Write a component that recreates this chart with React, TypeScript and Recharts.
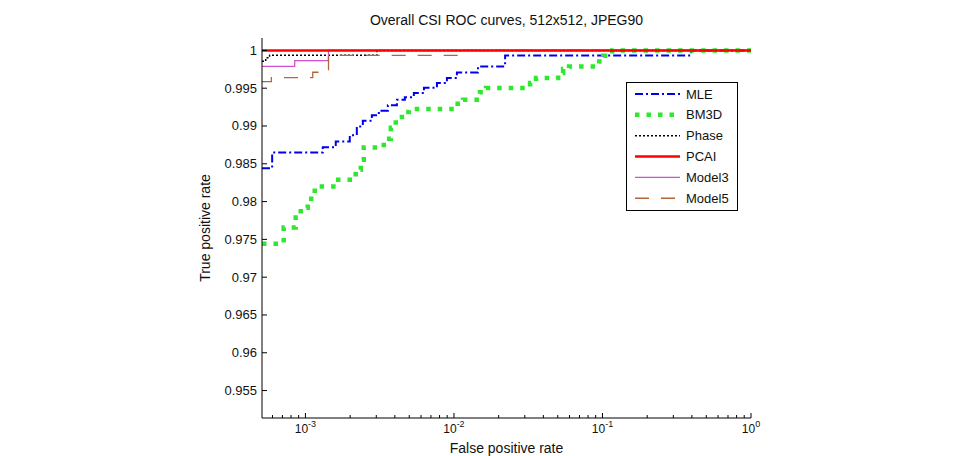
import React from 'react';
import { LineChart, Line, XAxis, YAxis, Customized } from 'recharts';

// ROC curves, x = false positive rate (log), y = true positive rate
const mleFpr = [0.00051, 0.000597, 0.001308, 0.0016, 0.001989, 0.002218, 0.002434, 0.0028, 0.00312, 0.00359, 0.00413, 0.00467, 0.00537, 0.00628, 0.00768, 0.00897, 0.01047, 0.01451, 0.0221, 0.394, 1];
const mleTpr = [0.98441, 0.9865, 0.98719, 0.98795, 0.98877, 0.98994, 0.99069, 0.99142, 0.99202, 0.99275, 0.99347, 0.9938, 0.99436, 0.99506, 0.99568, 0.99635, 0.99709, 0.99788, 0.99934, 1, 1];

const bm3dFpr = [0.00051, 0.000714, 0.00086, 0.00093, 0.001036, 0.001155, 0.0016, 0.00218, 0.00236, 0.00247, 0.00337, 0.00376, 0.00406, 0.00446, 0.00497, 0.01016, 0.0115, 0.01497, 0.01643, 0.03255, 0.0357, 0.0503, 0.0543, 0.0596, 0.095, 0.1011, 0.1162, 1];
const bm3dTpr = [0.97441, 0.97657, 0.97789, 0.97918, 0.98037, 0.982, 0.98288, 0.98421, 0.98553, 0.98716, 0.98831, 0.98977, 0.99118, 0.99185, 0.99224, 0.99294, 0.99347, 0.99447, 0.99502, 0.99568, 0.99635, 0.99701, 0.99754, 0.99788, 0.99854, 0.9993, 1, 1];

const phaseFpr = [0.00051, 0.00054, 0.000574, 0.00303, 1];
const phaseTpr = [0.99857, 0.99903, 0.99936, 1, 1];

const pcaiFpr = [0.00051, 1];
const pcaiTpr = [1, 1];

const model3Fpr = [0.00051, 0.000847, 0.001429, 1];
const model3Tpr = [0.99788, 0.99864, 1, 1];

const model5Fpr = [0.00051, 0.00059, 0.00112, 0.00143, 0.01186, 1];
const model5Tpr = [0.99586, 0.99639, 0.99711, 0.99934, 1, 1];

const xTicks = [0.0006, 0.0007, 0.0008, 0.0009, 0.001, 0.002, 0.003, 0.004, 0.005, 0.006, 0.007, 0.008, 0.009, 0.01, 0.02, 0.03, 0.04, 0.05, 0.06, 0.07, 0.08, 0.09, 0.1, 0.2, 0.3, 0.4, 0.5, 0.6, 0.7, 0.8, 0.9, 1];
const xMajor = [0.001, 0.01, 0.1, 1];
const yTicks = [0.955, 0.96, 0.965, 0.97, 0.975, 0.98, 0.985, 0.99, 0.995, 1];

const toPoints = (xs: number[], ys: number[]) => xs.map((x, i) => ({ x, y: ys[i] }));

// legend order
const series = [
  { name: 'MLE', data: toPoints(mleFpr, mleTpr), color: '#0000ee', width: 2, dash: '8 3 2 3' },
  { name: 'BM3D', data: toPoints(bm3dFpr, bm3dTpr), color: '#2ee82e', width: 4.5, dash: '4.5 7' },
  { name: 'Phase', data: toPoints(phaseFpr, phaseTpr), color: '#000000', width: 1.5, dash: '2 2' },
  { name: 'PCAI', data: toPoints(pcaiFpr, pcaiTpr), color: '#ff0000', width: 2.5, dash: undefined },
  { name: 'Model3', data: toPoints(model3Fpr, model3Tpr), color: '#d050d0', width: 1.3, dash: undefined },
  { name: 'Model5', data: toPoints(model5Fpr, model5Tpr), color: '#b5653a', width: 1.3, dash: '14 12' },
];
// red PCAI line drawn last so it stays visible along y = 1
const drawOrder = ['MLE', 'BM3D', 'Phase', 'Model3', 'Model5', 'PCAI'];

const FONT = '"Liberation Sans", Arial, Helvetica, sans-serif';

const isMajor = (v: number) => xMajor.some((m) => Math.abs(m - v) < 1e-12);

const BottomTick = (props: any) => {
  const { x, y, payload } = props;
  const major = isMajor(payload.value);
  const exp = Math.round(Math.log10(payload.value));
  return (
    <g>
      <line x1={x} x2={x} y1={y} y2={y - (major ? 5 : 3)} stroke="#000" strokeWidth={1} />
      {major && (
        <text x={x} y={y + 15} textAnchor="middle" fontSize={12} fontFamily={FONT} fill="#111">
          10<tspan dy={-6} fontSize={9}>{exp}</tspan>
        </text>
      )}
    </g>
  );
};

const TopTick = (props: any) => {
  const { x, y, payload } = props;
  const major = isMajor(payload.value);
  return <line x1={x} x2={x} y1={y} y2={y + (major ? 5 : 3)} stroke="#000" strokeWidth={1} />;
};

const LeftTick = (props: any) => {
  const { x, y, payload } = props;
  return (
    <g>
      <line x1={x} x2={x + 5} y1={y} y2={y} stroke="#000" strokeWidth={1} />
      <text x={x - 5} y={y} dy={4.5} textAnchor="end" fontSize={13} fontFamily={FONT} fill="#111">
        {String(payload.value)}
      </text>
    </g>
  );
};

const RightTick = (props: any) => {
  const { x, y } = props;
  return <line x1={x} x2={x - 5} y1={y} y2={y} stroke="#000" strokeWidth={1} />;
};

const Decorations = () => (
  <g fontFamily={FONT} fill="#111">
    <text x={506.5} y={25} textAnchor="middle" fontSize={14}>Overall CSI ROC curves, 512x512, JPEG90</text>
    <text x={210} y={228} textAnchor="middle" fontSize={14} transform="rotate(-90 210 228)">True positive rate</text>
    <text x={506.5} y={453} textAnchor="middle" fontSize={14}>False positive rate</text>
    <g transform="translate(626,82)">
      <rect x={0.5} y={0.5} width={111} height={128} fill="#fff" stroke="#000" strokeWidth={1} />
      {series.map((s, i) => {
        const cy = 12 + i * 20.85;
        return (
          <g key={s.name}>
            <line x1={9} x2={54} y1={cy} y2={cy} stroke={s.color} strokeWidth={s.width} strokeDasharray={s.dash} />
            <text x={60} y={cy} dy={4.5} fontSize={13}>{s.name}</text>
          </g>
        );
      })}
    </g>
  </g>
);

export default function App() {
  const ordered = drawOrder.map((n) => series.find((s) => s.name === n)!);
  return (
    <div style={{ position: 'relative', width: 963, height: 456, background: '#fff' }}>
      <style>{`body{margin:0;background:#fff}`}</style>
      <LineChart width={963} height={456} margin={{ top: 38, right: 212, bottom: 0, left: 202 }}>
        <XAxis
          dataKey="x"
          type="number"
          scale="log"
          domain={[0.00051, 1]}
          allowDataOverflow
          ticks={xTicks}
          interval={0}
          height={38}
          tickSize={0}
          tickMargin={0}
          tickLine={false}
          tick={<BottomTick />}
          axisLine={{ stroke: '#000', strokeWidth: 1 }}
        />
        <XAxis
          xAxisId="top"
          orientation="top"
          dataKey="x"
          type="number"
          scale="log"
          domain={[0.00051, 1]}
          allowDataOverflow
          ticks={xTicks}
          interval={0}
          height={0}
          tickSize={0}
          tickMargin={0}
          tickLine={false}
          tick={<TopTick />}
          axisLine={{ stroke: '#000', strokeWidth: 1 }}
        />
        <YAxis
          type="number"
          domain={[0.95137, 1.00164]}
          allowDataOverflow
          ticks={yTicks}
          interval={0}
          width={60}
          tickSize={0}
          tickMargin={0}
          tickLine={false}
          tick={<LeftTick />}
          axisLine={{ stroke: '#000', strokeWidth: 1 }}
        />
        <YAxis
          yAxisId="right"
          orientation="right"
          type="number"
          domain={[0.95137, 1.00164]}
          allowDataOverflow
          ticks={yTicks}
          interval={0}
          width={0}
          tickSize={0}
          tickMargin={0}
          tickLine={false}
          tick={<RightTick />}
          axisLine={{ stroke: '#000', strokeWidth: 1 }}
        />
        {ordered.map((s) => (
          <Line
            key={s.name}
            data={s.data}
            dataKey="y"
            name={s.name}
            type="stepAfter"
            stroke={s.color}
            strokeWidth={s.width}
            strokeDasharray={s.dash}
            dot={false}
            activeDot={false}
            isAnimationActive={false}
          />
        ))}
        <Customized component={Decorations} />
      </LineChart>
    </div>
  );
}
